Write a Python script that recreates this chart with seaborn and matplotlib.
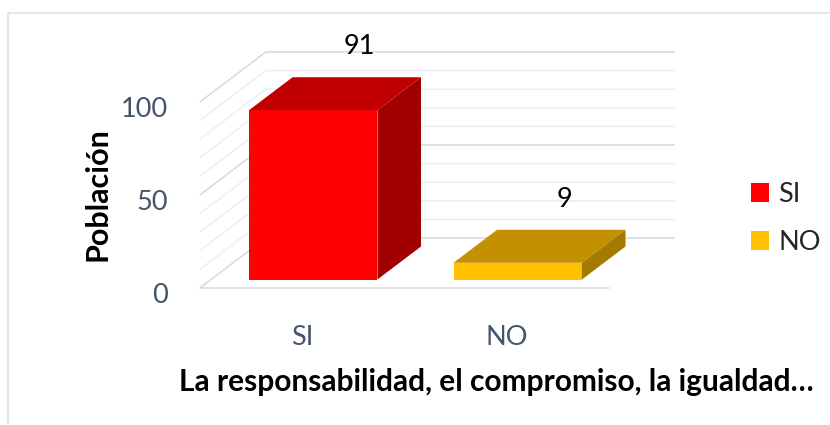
import numpy as np
import pandas as pd
import seaborn as sns
import matplotlib.pyplot as plt
from matplotlib.patches import Polygon, Rectangle
import matplotlib.transforms as mtransforms

# data
categorias = ["SI", "NO"]
poblacion = [91, 9]
color_frente = ["#FF0000", "#FFC000"]
color_tapa = ["#C00000", "#C39000"]
color_lado = ["#A20000", "#A47A00"]
yticks = [0, 50, 100]
xlabel = "La responsabilidad, el compromiso, la igualdad\u2026"
ylabel = "Población"

sns.set_style("white")
plt.rcParams["font.family"] = ["Lato", "DejaVu Sans"]

W, H = 830, 425
fig = plt.figure(figsize=(W / 100, H / 100), dpi=100)

# pixel layout of the (fake) 3d box
X0, XS = 302.0, 204.5      # px of category 0, px per category
Y0, YS = 288.0, 1.86       # px of value 0 at the front, px per unit
L, R, T, B = 175, 700, 20, 318
ax = fig.add_axes([L / W, 1 - B / H, (R - L) / W, (B - T) / H])

DX = 66 / XS        # full depth in x units
DY = 50 / YS        # full depth in y units
D0, BD = 0.17, 0.66 # bar start depth and bar depth (fractions)

df = pd.DataFrame({"respuesta": categorias, "poblacion": poblacion})
sns.barplot(data=df, x="respuesta", y="poblacion", hue="respuesta",
            palette=dict(zip(categorias, color_frente)), saturation=1,
            width=0.628, linewidth=0, ax=ax, legend=True, zorder=3)

ax.set_xlim((L - X0) / XS, (R - X0) / XS)
ax.set_ylim((Y0 - B) / YS, (Y0 - T) / YS)

# walls / gridlines
for v in range(0, 101, 10):
    c = "#D5D9E1" if v % 50 == 0 else "#ECEEF2"
    ax.plot([-0.5, -0.5 + DX, 1.5 + DX], [v, v + DY, v + DY],
            color=c, lw=1.1, zorder=1, solid_capstyle="butt")
ax.plot([-0.5, 1.5], [0, 0], color="#D5D9E1", lw=1.1, zorder=1)

# push bars back into the box and add top / side faces
for p in ax.patches[:len(categorias)]:
    k = int(round(p.get_x() + p.get_width() / 2))
    h = p.get_height()
    x = p.get_x() + D0 * DX
    y = D0 * DY
    w = p.get_width()
    p.set_x(x)
    p.set_y(y)
    ddx, ddy = BD * DX, BD * DY
    top = [(x, y + h), (x + w, y + h), (x + w + ddx, y + h + ddy), (x + ddx, y + h + ddy)]
    side = [(x + w, y), (x + w, y + h), (x + w + ddx, y + h + ddy), (x + w + ddx, y + ddy)]
    ax.add_patch(Polygon(top, closed=True, fc=color_tapa[k], ec="none", zorder=3))
    ax.add_patch(Polygon(side, closed=True, fc=color_lado[k], ec="none", zorder=3))
    ax.annotate(str(poblacion[k]), xy=(x + w / 2 + ddx, y + h + ddy),
                xytext=(3, 18), textcoords="offset pixels",
                ha="center", va="bottom", fontsize=19.5, color="black")

sns.despine(ax=ax, left=True, bottom=True)
ax.set_yticks(yticks)
ax.set_yticklabels([str(t) for t in yticks])
ax.set_xticks(range(len(categorias)))
ax.set_xticklabels(categorias)
ax.tick_params(axis="both", length=0, labelsize=19.5, colors="#44546A")
ax.tick_params(axis="y", pad=5)
ax.tick_params(axis="x", pad=5)
for lab in ax.get_yticklabels():
    lab.set_transform(lab.get_transform() + mtransforms.Affine2D().translate(0, -5))

ax.set_xlabel(xlabel, fontsize=21.5, fontweight="bold", color="black")
ax.xaxis.set_label_coords(496 / W, 1 - 368 / H, transform=fig.transFigure)
ax.set_ylabel(ylabel, fontsize=22, fontweight="bold", color="black")
ax.yaxis.label.set_va("center")
ax.yaxis.set_label_coords(97 / W, 1 - 194 / H, transform=fig.transFigure)

handles, labels = ax.get_legend_handles_labels()
ax.get_legend().remove()
fig.legend(handles, labels, loc="upper left", bbox_to_anchor=(751 / W, 1 - 182 / H),
           frameon=False, fontsize=19.5, handlelength=0.66, handleheight=0.66,
           handletextpad=0.35, labelspacing=0.85, borderpad=0, borderaxespad=0)

# chart area border (only top/left visible)
fig.add_artist(Rectangle((8 / W, -0.1), 1.2, 1 - 13 / H + 0.1, transform=fig.transFigure,
                         fill=False, ec="#DDE1E7", lw=1.2))

fig.savefig("out.png", dpi=100)
